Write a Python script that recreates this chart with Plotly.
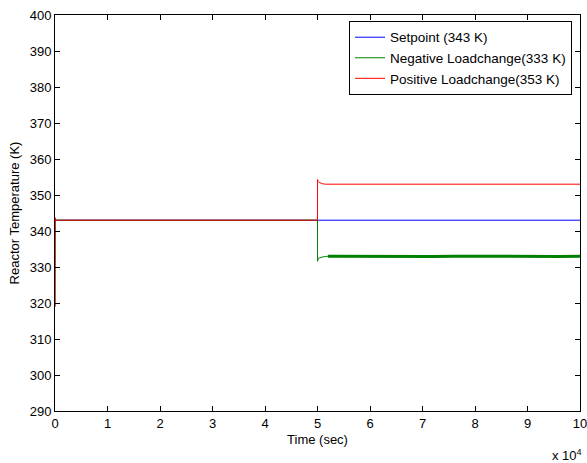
import plotly.graph_objects as go

# Time axis in units of 1e4 seconds
setpoint_t = [0, 10]
setpoint_k = [343, 343]

# Negative load change: starts at 343 K, steps down to 333 K at t = 5e4 s
neg_t = [0, 0.004, 0.01, 0.03, 5.0, 5.001, 5.01, 5.03, 5.06, 5.1, 5.15, 5.2, 6, 7, 8, 9, 10]
neg_k = [319, 343.6, 342.8, 343, 343, 331.6, 332.2, 332.5, 332.7, 332.8, 332.9, 333, 333, 333, 333, 333, 333]

# Noisy steady band of the negative load change after the step
neg_band_t = [5.2, 5.6, 6.0, 6.4, 6.8, 7.2, 7.6, 8.0, 8.4, 8.8, 9.2, 9.6, 10]
neg_band_k = [333.0, 332.95, 333.0, 332.95, 333.0, 332.95, 333.0, 332.95, 333.0, 332.95, 333.0, 332.95, 333.0]

# Positive load change: starts at 343 K, steps up to 353 K at t = 5e4 s
pos_t = [0, 0.004, 0.01, 0.03, 5.0, 5.001, 5.01, 5.03, 5.06, 5.1, 5.15, 10]
pos_k = [319, 343.7, 342.7, 343, 343, 354.3, 353.8, 353.5, 353.3, 353.1, 353, 353]

xticks = list(range(0, 11))
yticks = list(range(290, 401, 10))

FONT = "Liberation Sans, Arial, sans-serif"

fig = go.Figure()
fig.add_trace(go.Scatter(x=setpoint_t, y=setpoint_k, mode="lines",
                         line=dict(color="#0000ff", width=1),
                         name="Setpoint (343 K)"))
fig.add_trace(go.Scatter(x=neg_t, y=neg_k, mode="lines",
                         line=dict(color="#008000", width=1),
                         name="Negative Loadchange(333 K)", legendgroup="neg"))
fig.add_trace(go.Scatter(x=neg_band_t, y=neg_band_k, mode="lines",
                         line=dict(color="#008000", width=3),
                         showlegend=False, legendgroup="neg", hoverinfo="skip"))
fig.add_trace(go.Scatter(x=pos_t, y=pos_k, mode="lines",
                         line=dict(color="#ff0000", width=1),
                         name="Positive Loadchange(353 K)"))

axis_common = dict(showline=True, linecolor="black", linewidth=1, mirror="ticks",
                   ticks="inside", ticklen=5, tickcolor="black", showgrid=False,
                   zeroline=False, automargin=False, ticklabeloverflow="allow",
                   tickfont=dict(family=FONT, size=13, color="black"))

fig.update_xaxes(range=[0, 10], tickvals=xticks, ticktext=[str(v) for v in xticks],
                 title=dict(text="Time (sec)", font=dict(family=FONT, size=13, color="black"),
                            standoff=5),
                 **axis_common)
fig.update_yaxes(range=[290, 400], tickvals=yticks, ticktext=[str(v) for v in yticks],
                 title=dict(text="Reactor Temperature (K)", font=dict(family=FONT, size=13, color="black"),
                            standoff=7),
                 **axis_common)

fig.add_annotation(x=1.008, y=-0.086, xref="paper", yref="paper", xanchor="right", yanchor="top",
                   text="x 10<sup>4</sup>", showarrow=False,
                   font=dict(family=FONT, size=13, color="black"))

fig.update_layout(
    width=587, height=463,
    margin=dict(l=55, r=7, t=15, b=52),
    paper_bgcolor="white", plot_bgcolor="white",
    font=dict(family=FONT, size=13, color="black"),
    legend=dict(x=0.56, y=0.985, xanchor="left", yanchor="top",
                bgcolor="white", bordercolor="black", borderwidth=1,
                font=dict(family=FONT, size=13.5, color="black"),
                tracegroupgap=0),
    showlegend=True,
)

fig.write_html("out.html")
